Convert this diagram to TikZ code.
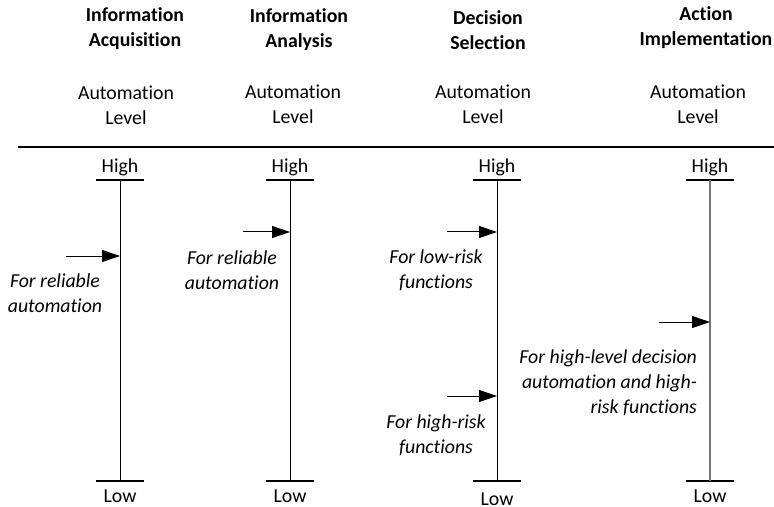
\documentclass[tikz,border=0pt]{standalone}
\usepackage{fontspec}
\setmainfont{Carlito}[Ligatures=NoCommon]
\usepackage{tikz}
\usetikzlibrary{arrows.meta, positioning, calc}
\newcommand\lblfont{\fontsize{9.9}{12.5}\selectfont}
\tikzset{
  head/.style={font=\lblfont\bfseries, align=center},
  lvl/.style={font=\lblfont, align=center},
  note/.style={font=\lblfont\itshape, align=center},
  pointer/.style={-{Triangle[length=9pt,width=6pt]}, line width=0.5pt},
}

\begin{document}
\begin{tikzpicture}[x=0.5pt, y=-0.5pt]
\useasboundingbox (0,0) rectangle (774,507);

% axes, one per stage
\foreach \n/\x/\b in {acq/120/502, ana/290/502, dec/497/505, act/710/502}{
  \coordinate (\n H) at (\x,180);
  \coordinate (\n L) at (\x,481);
  \draw [line width=0.6pt] ($ (\n H) + (-24,0) $) -- ($ (\n H) + (24,0) $);
  \draw [line width=0.6pt] ($ (\n L) + (-24,0) $) -- ($ (\n L) + (24,0) $);
  \node [lvl, anchor=base] (\n High) at (\x,173) {High};
  \node [lvl, anchor=base] (\n Low) at (\x,\b) {Low};
}
\draw [line width=0.5pt] (acqH) -- (acqL);
\draw [line width=0.5pt] (anaH) -- (anaL);
\draw [line width=0.5pt] (decH) -- (decL);
\draw [line width=0.6pt, black!55] (actH) -- (actL);

% headers
\node [head] (acqTitle) at (135,29) {Information\\Acquisition};
\node [head] (anaTitle) at (299,30) {Information\\Analysis};
\node [head] (decTitle) at (488,30) {Decision\\Selection};
\node [head] (actTitle) at (706,28) {Action\\Implementation};

\node [lvl] (acqLevel) at (126,105) {Automation\\Level};
\node [lvl] (anaLevel) at (293,104) {Automation\\Level};
\node [lvl] (decLevel) at (483,104) {Automation\\Level};
\node [lvl] (actLevel) at (698,104) {Automation\\Level};

\coordinate (ruleL) at (18,147);
\coordinate (ruleR) at (774,147);
\draw [line width=0.65pt] (ruleL) -- (ruleR);

% arrows and notes
\coordinate (acqIn) at (66,256);
\coordinate (anaIn) at (243,232);
\coordinate (decIn) at (447,232);
\coordinate (decIn2) at (447,396);
\coordinate (actIn) at (659,322);
\draw [pointer] (acqIn) -- (acqIn -| acqH);
\draw [pointer] (anaIn) -- (anaIn -| anaH);
\draw [pointer] (decIn) -- (decIn -| decH);
\draw [pointer] (decIn2) -- (decIn2 -| decH);
\draw [pointer] (actIn) -- (actIn -| actH);

\node [note] (acqNote) at (55,293) {For reliable\\automation};
\node [note] (anaNote) at (232,270) {For reliable\\automation};
\node [note] (decNote) at (436,270) {For low-risk\\functions};
\node [note] (decNote2) at (436,435) {For high-risk\\functions};
\node [note, align=right, anchor=east] (actNote) at (704,383) {For high-level decision\\automation and high-\\risk functions};
\end{tikzpicture}
\end{document}
